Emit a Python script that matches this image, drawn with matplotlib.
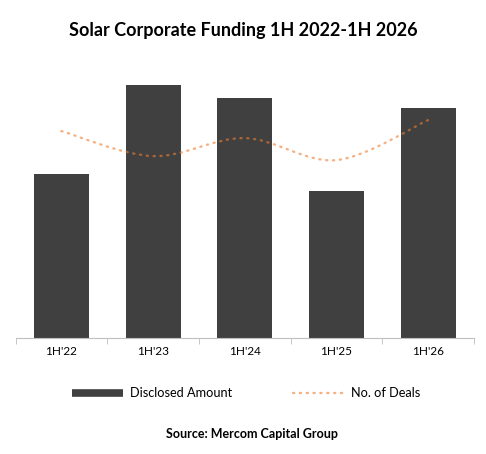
import matplotlib.pyplot as plt
import numpy as np
from matplotlib.path import Path
from matplotlib.patches import PathPatch
from matplotlib.lines import Line2D

periods = ["1H'22", "1H'23", "1H'24", "1H'25", "1H'26"]
disclosed_amount = [164, 253, 240, 147, 230]   # (relative)
num_deals = [207, 182, 200, 178, 218]          # (relative)

bar_color = "#404040"
line_color = "#ED7D31"
font = "Lato"
dots = (0, (0.5, 2.4))

fig = plt.figure(figsize=(4.86, 4.54), dpi=100)
ax = fig.add_axes([0.032, 0.2555, 0.943, 0.612])
x = np.arange(len(periods))
ax.bar(x, disclosed_amount, width=0.6, color=bar_color, zorder=2)
ax.set_xlim(-0.5, len(periods) - 0.5)
ax.set_ylim(0, 278)

# smoothed dotted line (Excel style), bezier through the data points
ax2 = ax.twinx()
ax2.set_ylim(0, 278)
pts = np.column_stack([x, num_deals]).astype(float)
verts = [tuple(pts[0])]
codes = [Path.MOVETO]
for i in range(len(pts) - 1):
    p0 = pts[max(i - 1, 0)]
    p1 = pts[i]
    p2 = pts[i + 1]
    p3 = pts[min(i + 2, len(pts) - 1)]
    c1 = p1 + (p2 - p0) / 6
    c2 = p2 - (p3 - p1) / 6
    verts += [tuple(c1), tuple(c2), tuple(p2)]
    codes += [Path.CURVE4] * 3
curve = PathPatch(Path(verts, codes), facecolor="none", edgecolor=line_color,
                  lw=1.7, linestyle=dots, alpha=0.6, capstyle="round")
ax2.add_patch(curve)
ax2.axis("off")

for s in ["top", "left", "right"]:
    ax.spines[s].set_visible(False)
ax.spines["bottom"].set_color("#BFBFBF")
ax.set_yticks([])
ax.set_xticks(x)
ax.set_xticklabels(periods, fontsize=8.5, family=font)
ax.tick_params(axis="x", which="major", length=0, pad=6)
ax.set_xticks(np.arange(-0.5, len(periods)), minor=True)
ax.tick_params(axis="x", which="minor", length=4, color="#BFBFBF")

fig.text(0.5, 0.933, "Solar Corporate Funding 1H 2022-1H 2026", ha="center", va="center",
         fontsize=13, fontweight="bold", family=font)

handles = [Line2D([], [], color=bar_color, lw=5.5, solid_capstyle="butt"),
           Line2D([], [], color=line_color, lw=1.7, linestyle=dots, alpha=0.6,
                  dash_capstyle="round")]
fig.legend(handles, ["Disclosed Amount", "No. of Deals"], loc="center", ncol=2,
           bbox_to_anchor=(0.506, 0.134), frameon=False, handlelength=4.0,
           handletextpad=0.5, columnspacing=4.8, prop={"family": font, "size": 9.2})

fig.text(0.518, 0.044, "Source: Mercom Capital Group", ha="center", va="center",
         fontsize=9, fontweight="bold", family=font)

fig.savefig("out.png", dpi=100)
